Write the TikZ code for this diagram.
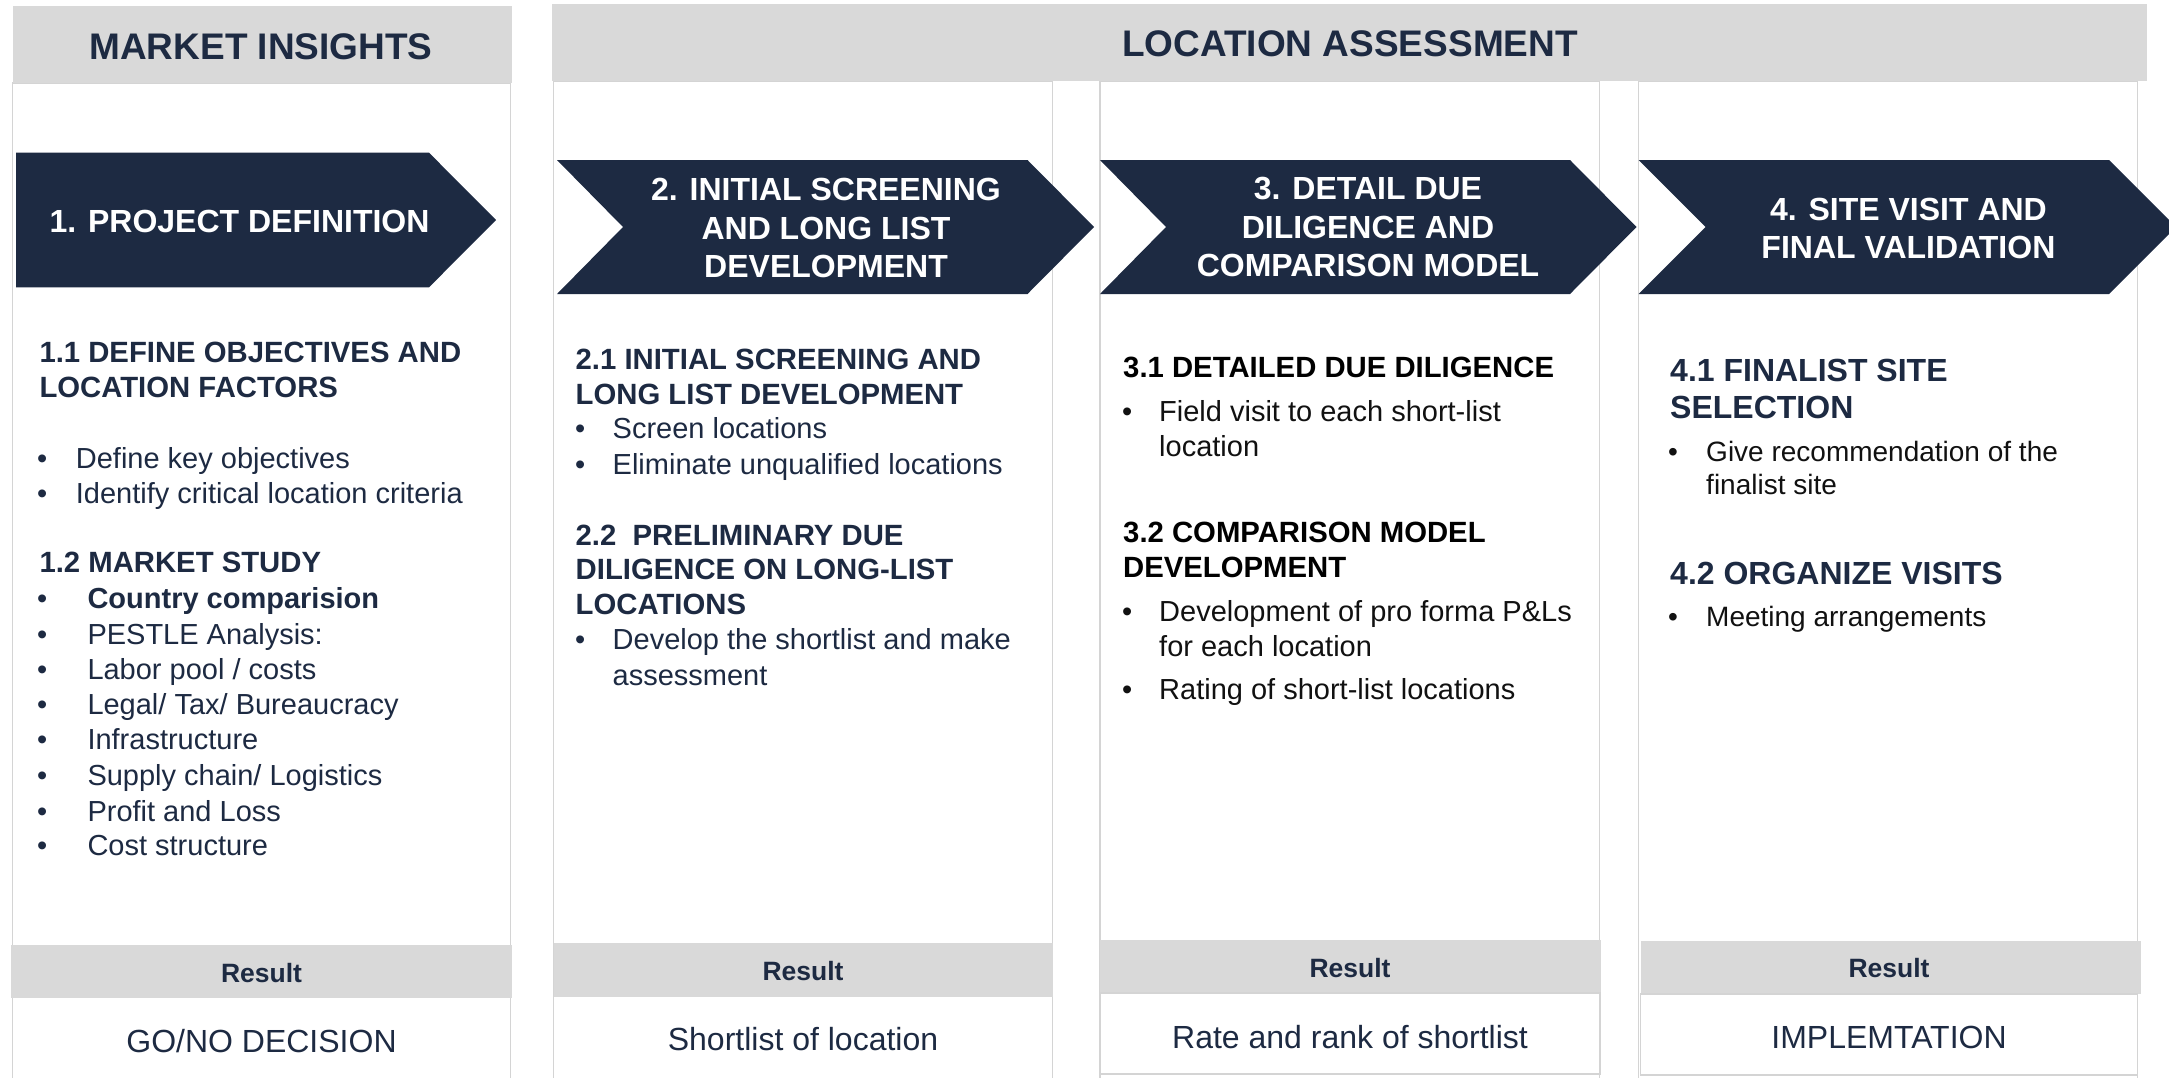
\documentclass[tikz,border=0pt]{standalone}
\usepackage{fontspec}
\setmainfont{Liberation Sans}
\definecolor{navy}{HTML}{1D2A42}
\definecolor{band}{HTML}{D9D9D9}
\definecolor{rulec}{HTML}{D4D4D4}
\definecolor{ink}{HTML}{111111}
\begin{document}
\begin{tikzpicture}[x=1pt,y=-1pt,
  colbox/.style={draw=rulec,line width=1.5pt},
  chevron/.style={fill=navy},
  ttl/.style={anchor=base,inner sep=0,font=\fontsize{37}{44}\selectfont\bfseries,text=navy},
  atx/.style={anchor=base,inner sep=0,font=\fontsize{32}{39}\selectfont\bfseries,text=white},
  hd/.style={anchor=base west,inner sep=0,font=\fontsize{29.3}{35}\selectfont\bfseries,text=navy},
  bd/.style={anchor=base west,inner sep=0,font=\fontsize{29}{35}\selectfont,text=navy},
  hdk/.style={hd,text=black},
  bdk/.style={bd,text=ink},
  hdf/.style={anchor=base west,inner sep=0,font=\fontsize{32}{38}\selectfont\bfseries,text=navy},
  bdf/.style={anchor=base west,inner sep=0,font=\fontsize{28}{33}\selectfont,text=ink},
  reslbl/.style={anchor=base,inner sep=0,font=\fontsize{26.5}{32}\selectfont\bfseries,text=navy},
  resval/.style={anchor=base,inner sep=0,font=\fontsize{32}{38}\selectfont,text=navy}
]
\useasboundingbox (0,0) rectangle (2169,1077);
\clip (0,0) rectangle (2169,1077);
\fill[white] (0,0) rectangle (2169,1077);

% column outlines
\draw[colbox] (12.7,83) rectangle (510.7,1095);
\draw[colbox] (553.5,81) rectangle (1052.5,1095);
\draw[colbox] (1100,81) rectangle (1599.5,1095);
\draw[colbox] (1638.5,81) rectangle (2137.5,1095);

% headers
\fill[band] (12.5,6) rectangle (512,83);
\fill[band] (552,4) rectangle (2147,81);
\node[ttl] (title1) at (261,59.3) {MARKET INSIGHTS};
\node[ttl] (title2) at (1350,56.7) {LOCATION ASSESSMENT};

% chevrons
\fill[chevron] (16,152.7) -- (429,152.7) -- (496,220) -- (429,287.3) -- (16,287.3) -- cycle;
\fill[chevron] (557,160) -- (1027.5,160) -- (1094,227) -- (1027.5,294) -- (557,294) -- (623,227) -- cycle;
\fill[chevron] (1100,160) -- (1570,160) -- (1636.5,227) -- (1570,294) -- (1100,294) -- (1166,227) -- cycle;
\fill[chevron] (1638.5,160) -- (2109,160) -- (2176,227) -- (2109,294) -- (1638.5,294) -- (1705.5,227) -- cycle;

\node[atx] (a1) at (239.5,232.7) {1. PROJECT DEFINITION};
\node[atx] (a2a) at (826,200) {2. INITIAL SCREENING};
\node[atx] (a2b) at (826,239.3) {AND LONG LIST};
\node[atx] (a2c) at (826,277.3) {DEVELOPMENT};
\node[atx] (a3a) at (1368,199.3) {3. DETAIL DUE};
\node[atx] (a3b) at (1368,238.3) {DILIGENCE AND};
\node[atx] (a3c) at (1368,276.7) {COMPARISON MODEL};
\node[atx] (a4a) at (1908.4,220) {4. SITE VISIT AND};
\node[atx] (a4b) at (1908.4,258.3) {FINAL VALIDATION};

% column 1
\node[hd] (h11a) at (39.3,362.7) {1.1 DEFINE OBJECTIVES AND};
\node[hd] (h11b) at (39.3,397.3) {LOCATION FACTORS};
\node[bd] (d11a) at (37,468.3) {•};
\node[bd] (t11a) at (75.7,468.3) {Define key objectives};
\node[bd] (d11b) at (37,503.3) {•};
\node[bd] (t11b) at (75.7,503.3) {Identify critical location criteria};
\node[hd] (h12) at (39.3,572.7) {1.2 MARKET STUDY};
\node[bd] (d12a) at (37,608.7) {•};
\node[bd,font=\fontsize{29}{35}\selectfont\bfseries] (t12a) at (87.3,608.7) {Country comparision};
\node[bd] (d12b) at (37,644.3) {•};
\node[bd] (t12b) at (87.3,644.3) {PESTLE Analysis:};
\node[bd] (d12c) at (37,679.7) {•};
\node[bd] (t12c) at (87.3,679.7) {Labor pool / costs};
\node[bd] (d12d) at (37,714.3) {•};
\node[bd] (t12d) at (87.3,714.3) {Legal/ Tax/ Bureaucracy};
\node[bd] (d12e) at (37,749.7) {•};
\node[bd] (t12e) at (87.3,749.7) {Infrastructure};
\node[bd] (d12f) at (37,785.3) {•};
\node[bd] (t12f) at (87.3,785.3) {Supply chain/ Logistics};
\node[bd] (d12g) at (37,821) {•};
\node[bd] (t12g) at (87.3,821) {Profit and Loss};
\node[bd] (d12h) at (37,855.3) {•};
\node[bd] (t12h) at (87.3,855.3) {Cost structure};

% column 2
\node[hd] (h21a) at (575.5,369) {2.1 INITIAL SCREENING AND};
\node[hd] (h21b) at (575.5,404) {LONG LIST DEVELOPMENT};
\node[bd] (d21a) at (575,438) {•};
\node[bd] (t21a) at (612.5,438) {Screen locations};
\node[bd] (d21b) at (575,474) {•};
\node[bd] (t21b) at (612.5,474) {Eliminate unqualified locations};
\node[hd] (h22a) at (575.5,545) {2.2\ \ PRELIMINARY DUE};
\node[hd] (h22b) at (575.5,579) {DILIGENCE ON LONG-LIST};
\node[hd] (h22c) at (575.5,614) {LOCATIONS};
\node[bd] (d22a) at (575,649) {•};
\node[bd] (t22a) at (612.5,649) {Develop the shortlist and make};
\node[bd] (t22b) at (612.5,685) {assessment};

% column 3
\node[hdk] (h31) at (1123,377.3) {3.1 DETAILED DUE DILIGENCE};
\node[bdk] (d31a) at (1122,421) {•};
\node[bdk] (t31a) at (1159,421) {Field visit to each short-list};
\node[bdk] (t31b) at (1159,456) {location};
\node[hdk] (h32a) at (1123,542.5) {3.2 COMPARISON MODEL};
\node[hdk] (h32b) at (1123,577.5) {DEVELOPMENT};
\node[bdk] (d32a) at (1122,621.5) {•};
\node[bdk] (t32a) at (1159,621.5) {Development of pro forma P\&Ls};
\node[bdk] (t32b) at (1159,656.5) {for each location};
\node[bdk] (d32c) at (1122,699.5) {•};
\node[bdk] (t32c) at (1159,699.5) {Rating of short-list locations};

% column 4
\node[hdf] (h41a) at (1670,381) {4.1 FINALIST SITE};
\node[hdf] (h41b) at (1670,418.7) {SELECTION};
\node[bdf] (d41a) at (1668,461.7) {•};
\node[bdf] (t41a) at (1706,461.7) {Give recommendation of the};
\node[bdf] (t41b) at (1706,494.5) {finalist site};
\node[hdf] (h42) at (1670,584) {4.2 ORGANIZE VISITS};
\node[bdf] (d42a) at (1668,626) {•};
\node[bdf] (t42a) at (1706,626) {Meeting arrangements};

% result bands
\fill[band] (11,945) rectangle (512,998);
\fill[band] (554,943) rectangle (1052.5,997);
\fill[band] (1100,940) rectangle (1600.5,993);
\fill[band] (1641,941) rectangle (2141,994);
\draw[colbox] (1100,993) rectangle (1600.5,1074);
\draw[colbox] (1640.5,994) rectangle (2137.5,1075);

\node[reslbl] (r1) at (261.5,982) {Result};
\node[resval] (v1) at (261.5,1052) {GO/NO DECISION};
\node[reslbl] (r2) at (803,980) {Result};
\node[resval] (v2) at (803,1050.5) {Shortlist of location};
\node[reslbl] (r3) at (1350,977) {Result};
\node[resval] (v3) at (1350,1048) {Rate and rank of shortlist};
\node[reslbl] (r4) at (1889,977) {Result};
\node[resval] (v4) at (1889,1048) {IMPLEMTATION};
\end{tikzpicture}
\end{document}
